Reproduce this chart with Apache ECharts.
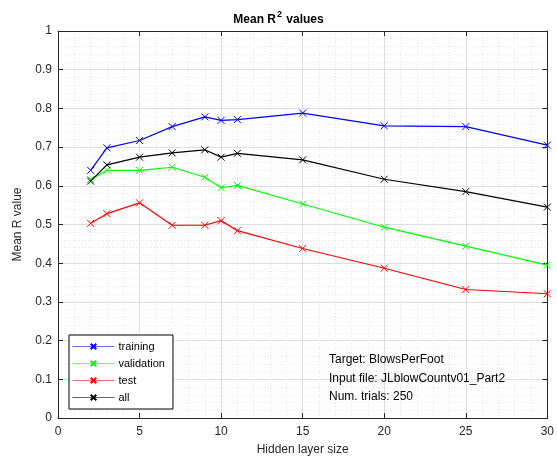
<!DOCTYPE html>
<html><head><meta charset="utf-8">
<script src="https://cdn.jsdelivr.net/npm/echarts@6/dist/echarts.min.js"></script>
<style>html,body{margin:0;padding:0;background:#fff}#c{width:557px;height:461px}</style>
</head><body><div id="c"></div>
<script>
const hiddenSizes = [2, 3, 5, 7, 9, 10, 11, 15, 20, 25, 30];
const training   = [0.640, 0.698, 0.717, 0.753, 0.778, 0.769, 0.771, 0.788, 0.755, 0.753, 0.705];
const validation = [0.616, 0.640, 0.640, 0.648, 0.622, 0.595, 0.601, 0.553, 0.493, 0.444, 0.395];
const test       = [0.503, 0.528, 0.556, 0.498, 0.498, 0.510, 0.484, 0.438, 0.387, 0.332, 0.321];
const all        = [0.612, 0.654, 0.674, 0.685, 0.693, 0.674, 0.684, 0.667, 0.617, 0.585, 0.545];
const seriesNames = ['training', 'validation', 'test', 'all'];
const infoLines = ['Target: BlowsPerFoot', 'Input file: JLblowCountv01_Part2', 'Num. trials: 250'];

const colors = ['#0000ff', '#00ff00', '#ff0000', '#000000'];
const values = [training, validation, test, all];
const font = 'Liberation Sans, Arial, sans-serif';
const xMark = 'path://M0,0L10,10M10,0L0,10';

const chart = echarts.init(document.getElementById('c'));
const axisCol = '#262626';
const baseX = {
  type: 'value', min: 0, max: 30, interval: 5,
  axisLine: {show: true, onZero: false, lineStyle: {color: axisCol, width: 1}},
  axisTick: {show: true, inside: true, length: 5, lineStyle: {color: axisCol}},
  splitLine: {show: false}
};
const baseY = {
  type: 'value', min: 0, max: 1, interval: 0.1,
  axisLine: {show: true, onZero: false, lineStyle: {color: axisCol, width: 1}},
  axisTick: {show: true, inside: true, length: 5, lineStyle: {color: axisCol}},
  splitLine: {show: false}
};
chart.setOption({
  animation: false,
  backgroundColor: '#fff',
  title: {
    text: '{t|Mean R}{s|2}{t| values}',
    left: 'center', top: 5,
    textStyle: {rich: {
      t: {fontFamily: font, fontSize: 12, fontWeight: 'bold', color: '#000', verticalAlign: 'bottom', lineHeight: 16},
      s: {fontFamily: font, fontSize: 9, fontWeight: 'bold', color: '#000', verticalAlign: 'top', lineHeight: 16, padding: [0, 1, 6, 1]}
    }}
  },
  grid: {left: 58, right: 6, top: 31, bottom: 42},
  xAxis: [
    Object.assign({}, baseX, {
      position: 'bottom',
      name: 'Hidden layer size', nameLocation: 'middle', nameGap: 26,
      nameTextStyle: {fontFamily: font, fontSize: 12, color: axisCol},
      axisLabel: {fontFamily: font, fontSize: 12, color: axisCol, margin: 8},
      splitLine: {show: true, lineStyle: {color: '#dedede', width: 1}},
      minorTick: {show: false, splitNumber: 5},
      minorSplitLine: {show: true, lineStyle: {color: '#e6e6e6', type: [1, 2], width: 1}}
    }),
    Object.assign({}, baseX, {position: 'top', axisLabel: {show: false}})
  ],
  yAxis: [
    Object.assign({}, baseY, {
      position: 'left',
      name: 'Mean R value', nameLocation: 'middle', nameGap: 34, nameRotate: 90,
      nameTextStyle: {fontFamily: font, fontSize: 12, color: axisCol},
      axisLabel: {fontFamily: font, fontSize: 12, color: axisCol, margin: 6,
        formatter: v => String(Math.round(v * 10) / 10)},
      splitLine: {show: true, lineStyle: {color: '#dedede', width: 1}},
      minorTick: {show: false, splitNumber: 5},
      minorSplitLine: {show: true, lineStyle: {color: '#e6e6e6', type: [1, 2], width: 1}}
    }),
    Object.assign({}, baseY, {position: 'right', axisLabel: {show: false}})
  ],
  legend: {
    orient: 'vertical', left: 69, top: 335,
    data: seriesNames,
    backgroundColor: '#fff', borderColor: '#000', borderWidth: 1,
    padding: [6, 8, 6, 3], itemGap: 6, itemWidth: 42, itemHeight: 7,
    lineStyle: {width: 1, opacity: 0.6},
    textStyle: {fontFamily: font, fontSize: 11, color: '#000', padding: [0, 0, 0, -1]}
  },
  graphic: infoLines.map((t, i) => ({
    type: 'text', left: 329, top: 354 + i * 18.5, z: 100,
    style: {text: t, fontFamily: font, fontSize: 12, fill: '#000'}
  })),
  series: seriesNames.map((n, k) => ({
    name: n, type: 'line',
    data: hiddenSizes.map((x, i) => [x, values[k][i]]),
    symbol: xMark, symbolSize: 7, showAllSymbol: true,
    lineStyle: {color: colors[k], width: 1.2},
    itemStyle: {color: colors[k], borderColor: colors[k], borderWidth: 1},
    emphasis: {disabled: true}
  }))
});
</script></body></html>
